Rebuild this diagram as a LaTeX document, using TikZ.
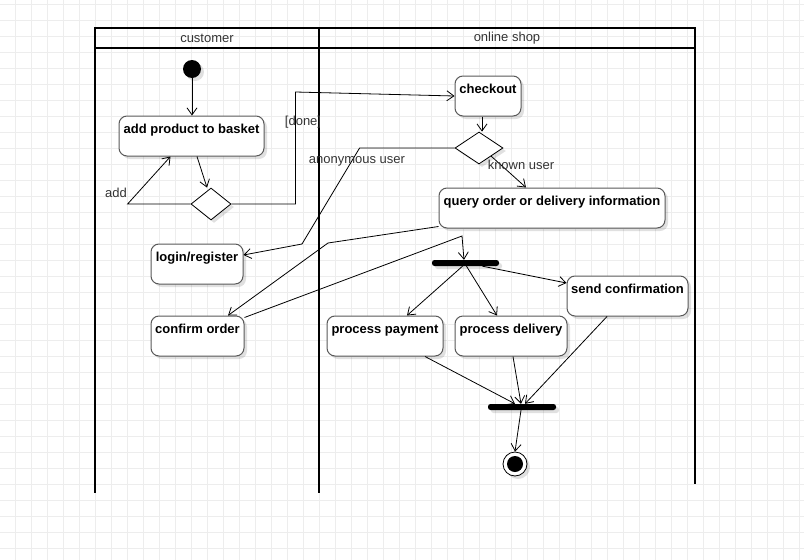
\documentclass[tikz,border=0pt]{standalone}
\usepackage{fontspec}
\setmainfont{Liberation Sans}
\usetikzlibrary{shapes.geometric,arrows.meta,shadows}

\begin{document}
\begin{tikzpicture}[x=1pt,y=-1pt,
    font=\fontsize{13}{15}\selectfont,
    gridline/.style={draw=black!7,line width=1pt},
    lane/.style={line width=2pt,line cap=rect},
    lanelabel/.style={text=black!80},
    shade/.style={drop shadow={shadow xshift=3pt,shadow yshift=-3pt,opacity=0.12,fill=black}},
    actbox/.style={draw=black!65,line width=1pt,fill=white,rounded corners=8pt,
        minimum height=40pt,inner xsep=2pt,inner ysep=4pt,text height=13pt,text depth=19pt,
        font=\fontsize{13}{15}\selectfont\bfseries,shade},
    decision/.style={diamond,draw,line width=0.8pt,fill=white,inner sep=0pt,shade},
    bar/.style={fill=black,rounded corners=2.5pt,minimum height=6pt,inner sep=0pt,shade},
    flow/.style={line width=0.8pt,-{Straight Barb[length=7pt,width=10pt]}},
    guard/.style={text=black!80}]

    \useasboundingbox (0,0) rectangle (804,560);

    % background grid
    \foreach \gx in {0,...,49}
        \draw[gridline] (15.7+16*\gx,0) -- (15.7+16*\gx,560);
    \foreach \gy in {0,...,34}
        \draw[gridline] (0,4.3+16*\gy) -- (804,4.3+16*\gy);

    % swimlanes
    \draw[lane] (95,492) -- (95,28) -- (695,28) -- (695,483);
    \draw[lane] (95,48) -- (695,48);
    \draw[lane] (319,28) -- (319,492);
    \node[lanelabel] (customer) at (207,38.5) {customer};
    \node[lanelabel] (shop) at (507,38.5) {online shop};

    % nodes
    \node[circle,fill=black,minimum size=18pt,inner sep=0pt,shade] (start) at (192,69) {};
    \node[actbox,minimum width=145pt] (add) at (191.5,136) {add product to basket};
    \node[decision,minimum width=40pt,minimum height=32pt,aspect=1.25] (dec1) at (211,204) {};
    \node[actbox,minimum width=66pt] (checkout) at (488,96) {checkout};
    \node[decision,minimum width=48pt,minimum height=32pt,aspect=1.5] (dec2) at (479,148) {};
    \node[actbox,minimum width=226pt] (query) at (552,208) {query order or delivery information};
    \node[actbox,minimum width=92pt] (login) at (197,264) {login/register};
    \node[actbox,minimum width=93pt] (confirm) at (197.5,336) {confirm order};
    \node[bar,minimum width=67pt] (fork) at (465.5,263) {};
    \node[actbox,minimum width=121pt] (sendc) at (627.5,296) {send confirmation};
    \node[actbox,minimum width=116pt] (pay) at (385,336) {process payment};
    \node[actbox,minimum width=112pt] (deliv) at (511,336) {process delivery};
    \node[bar,minimum width=68pt] (join) at (522,407) {};
    \node[circle,draw,line width=0.8pt,fill=white,minimum size=24pt,inner sep=0pt,shade] (end) at (515,464) {};
    \fill (end) circle (8pt);

    % connectors
    \draw[flow] (start.south) -- (add.north -| start);
    \draw[flow] ([xshift=5.5pt]add.south) -- ([xshift=-4pt]dec1.north);
    \draw[flow] (dec1.west) -- ++(-63,0) -- ([xshift=-21pt]add.south);
    \node[guard] (addlbl) at (116,193) {add};
    \draw[flow] (dec1.east) -- ++(64,0) -- ++(0,-112) -- (checkout.west);
    \node[guard] (done) at (303,122) {[done]};
    \draw[flow] ([xshift=-6pt]checkout.south) -- ([xshift=3pt]dec2.north);
    \draw[flow] (dec2.west) -- ++(-95,0) -- (302,244) -- ([yshift=9pt]login.east);
    \node[guard] (anon) at (357,161.5) {anonymous user};
    \draw[flow] (dec2.south east) -- ([xshift=-26pt]query.north);
    \node[guard] (known) at (521,164.5) {known user};
    \draw[flow] ([yshift=2pt]query.south west) -- (328,243) -- ([xshift=30.5pt]confirm.north);
    \draw[flow] ([yshift=-2pt]confirm.north east) -- (462,236) -- ([xshift=-1.5pt]fork.north);
    \draw[flow] ([xshift=-3pt]fork.south) -- ([xshift=22pt]pay.north);
    \draw[flow] ([xshift=1pt]fork.south) -- ([xshift=-14pt]deliv.north);
    \draw[flow] ([xshift=17pt]fork.south) -- ([yshift=13pt]sendc.west);
    \draw[flow] ([xshift=40pt]pay.south) -- ([xshift=-7pt]join.north);
    \draw[flow] ([xshift=2pt]deliv.south) -- ([xshift=-1pt]join.north);
    \draw[flow] ([xshift=-20.5pt]sendc.south) -- ([xshift=3pt]join.north);
    \draw[flow] ([xshift=-1pt]join.south) -- (end.north);
\end{tikzpicture}
\end{document}
